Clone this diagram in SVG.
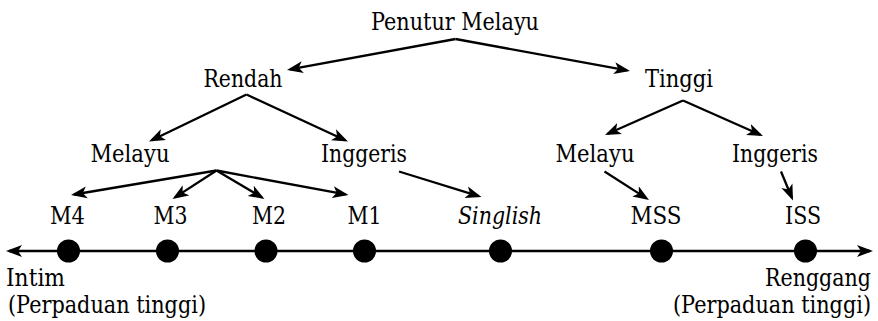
<svg xmlns="http://www.w3.org/2000/svg" width="878" height="321" viewBox="0 0 878 321">
  <style>
    text { font-family: 'DejaVu Serif', 'Liberation Serif', serif; font-size: 23.5px; fill: #000; }
    .c { text-anchor: middle; }
    .e { text-anchor: end; }
    .it { font-style: italic; }
    .ln { stroke: #000; stroke-width: 2.3; fill: none; marker-end: url(#ah); }
    .axis { stroke: #000; stroke-width: 2.3; fill: none; marker-start: url(#ah); marker-end: url(#ah); }
    .dot { fill: #000; }
  </style>
  <defs>
    <marker id="ah" viewBox="0 -7 17 14" refX="13" refY="0" markerWidth="17" markerHeight="14" markerUnits="userSpaceOnUse" orient="auto-start-reverse">
      <path d="M16,0 L0,-6 L4,0 L0,6 Z" fill="#000"/>
    </marker>
  </defs>
  <rect width="878" height="321" fill="#fff"/>

  <g id="connectors">
    <line class="ln" x1="455.5" y1="39" x2="289.95" y2="69.46"/>
    <line class="ln" x1="455.5" y1="39" x2="627.05" y2="70.46"/>
    <line class="ln" x1="246.5" y1="94.5" x2="151.7" y2="140.2"/>
    <line class="ln" x1="246.5" y1="94.5" x2="345.28" y2="140.24"/>
    <line class="ln" x1="683" y1="100.5" x2="607.74" y2="133.79"/>
    <line class="ln" x1="683" y1="100.5" x2="760.26" y2="134.78"/>
    <line class="ln" x1="216.5" y1="170.5" x2="73.96" y2="194.5"/>
    <line class="ln" x1="216.5" y1="170.5" x2="175.02" y2="197.37"/>
    <line class="ln" x1="216.5" y1="170.5" x2="261.92" y2="197.47"/>
    <line class="ln" x1="216.5" y1="170.5" x2="345.55" y2="194.45"/>
    <line class="ln" x1="399" y1="171.5" x2="478.63" y2="196.11"/>
    <line class="ln" x1="604.5" y1="171.5" x2="646.47" y2="198.38"/>
    <line class="ln" x1="781" y1="171.5" x2="791.85" y2="197.73"/>
    <line class="axis" x1="9" y1="251" x2="870" y2="251"/>
  </g>

  <g id="n-penutur"><text class="c" x="455" y="30" textLength="168" lengthAdjust="spacingAndGlyphs">Penutur Melayu</text></g>
  <g id="n-rendah"><text class="c" x="243" y="87" textLength="79" lengthAdjust="spacingAndGlyphs">Rendah</text></g>
  <g id="n-tinggi"><text class="c" x="679" y="87" textLength="68" lengthAdjust="spacingAndGlyphs">Tinggi</text></g>
  <g id="n-melayu-r"><text class="c" x="130" y="162" textLength="79" lengthAdjust="spacingAndGlyphs">Melayu</text></g>
  <g id="n-inggeris-r"><text class="c" x="364" y="162" textLength="86" lengthAdjust="spacingAndGlyphs">Inggeris</text></g>
  <g id="n-melayu-t"><text class="c" x="595" y="162" textLength="79" lengthAdjust="spacingAndGlyphs">Melayu</text></g>
  <g id="n-inggeris-t"><text class="c" x="775" y="162" textLength="86" lengthAdjust="spacingAndGlyphs">Inggeris</text></g>

  <g id="n-m4"><text class="c" x="67.5" y="224" textLength="35" lengthAdjust="spacingAndGlyphs">M4</text><circle class="dot" cx="68.5" cy="251" r="11.5"/></g>
  <g id="n-m3"><text class="c" x="170.5" y="224" textLength="34" lengthAdjust="spacingAndGlyphs">M3</text><circle class="dot" cx="167.5" cy="251" r="11.5"/></g>
  <g id="n-m2"><text class="c" x="269" y="224" textLength="34" lengthAdjust="spacingAndGlyphs">M2</text><circle class="dot" cx="266" cy="251" r="11.5"/></g>
  <g id="n-m1"><text class="c" x="364.5" y="224" textLength="34" lengthAdjust="spacingAndGlyphs">M1</text><circle class="dot" cx="364.5" cy="251" r="11.5"/></g>
  <g id="n-singlish"><text class="c it" x="500" y="224" textLength="84" lengthAdjust="spacingAndGlyphs">Singlish</text><circle class="dot" cx="500.5" cy="251" r="11.5"/></g>
  <g id="n-mss"><text class="c" x="656" y="224" textLength="51" lengthAdjust="spacingAndGlyphs">MSS</text><circle class="dot" cx="661.5" cy="251" r="11.5"/></g>
  <g id="n-iss"><text class="c" x="803" y="224" textLength="36" lengthAdjust="spacingAndGlyphs">ISS</text><circle class="dot" cx="805.5" cy="251" r="11.5"/></g>

  <g id="n-intim">
    <text x="6" y="286" textLength="59" lengthAdjust="spacingAndGlyphs">Intim</text>
    <text x="8" y="313" textLength="198" lengthAdjust="spacingAndGlyphs">(Perpaduan tinggi)</text>
  </g>
  <g id="n-renggang">
    <text class="e" x="871" y="286" textLength="106" lengthAdjust="spacingAndGlyphs">Renggang</text>
    <text class="e" x="871" y="313" textLength="198" lengthAdjust="spacingAndGlyphs">(Perpaduan tinggi)</text>
  </g>
</svg>
